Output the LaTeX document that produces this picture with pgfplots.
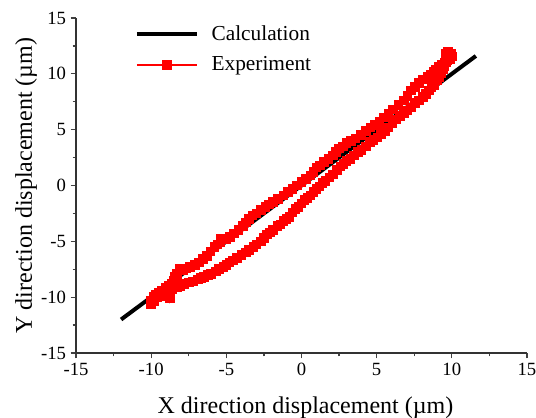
\documentclass[border=0pt]{standalone}
\usepackage{fontspec}
\setmainfont{Liberation Serif}
\usepackage{pgfplots}
\pgfplotsset{compat=1.18}
\begin{document}
\begin{tikzpicture}
\begin{axis}[
  at={(0,0)}, anchor=south west,
  scale only axis, width=338.25pt, height=251.25pt,
  xmin=-15, xmax=15, ymin=-15, ymax=15,
  axis x line*=bottom, axis y line*=left,
  axis line style={draw=none},
  xtick={-15,-10,...,15}, ytick={-15,-10,...,15},
  minor tick num=1,
  tick align=outside,
  major tick length=4pt, minor tick length=2.5pt,
  every tick/.style={black!75, line width=0.9pt},
  ticklabel style={font=\fontsize{14}{14}\selectfont},
  /pgf/number format/assume math mode=true,
  xlabel={X direction displacement (µm)},
  ylabel={Y direction displacement (µm)},
  xlabel style={at={(axis description cs:0.5,0)}, anchor=base, yshift=-45pt, xshift=3pt, font=\fontsize{18}{18}\selectfont},
  ylabel style={at={(axis description cs:0,0.5)}, anchor=base, yshift=33pt, font=\fontsize{18}{18}\selectfont},
  legend style={draw=none, fill=none, at={(rel axis cs:0.13,0.985)}, anchor=north west,
    font=\fontsize{16}{16}\selectfont, row sep=6.5pt, inner sep=0pt,
    nodes={inner xsep=9.5pt}},
  legend cell align=left,
  legend image code/.code={\draw[mark repeat=2,mark phase=2,#1] plot coordinates {(0pt,0pt) (22.5pt,0pt) (45pt,0pt)};},
  clip=false,
]
\addplot[black, line width=3pt, no marks] coordinates {(-12,-12) (11.6,11.6)};
\addlegendentry{Calculation}
\addplot[red, line width=1.2pt, mark=square*, mark size=3pt, mark options={solid, fill=red, draw=red}] coordinates {
(-10.0,-10.3) (-9.8,-10.4) (-9.6,-10.0) (-9.4,-9.9) (-9.2,-9.7) (-9.0,-9.6) (-8.75,-9.35) (-8.75,-10.05) (-8.6,-9.3) (-8.3,-9.1) (-8.1,-9.0) (-7.8,-8.8) (-7.5,-8.7) (-7.2,-8.6) (-6.9,-8.4) (-6.7,-8.3) (-6.5,-8.2) (-6.2,-8.0) (-6.0,-7.9) (-5.7,-7.7) (-5.5,-7.5) (-5.2,-7.3) (-5.0,-7.1) (-4.8,-6.9) (-4.55,-6.7) (-4.3,-6.5) (-4.0,-6.2) (-3.7,-6.0) (-3.5,-5.8) (-3.2,-5.5) (-3.0,-5.3) (-2.7,-5.0) (-2.5,-4.7) (-2.3,-4.4) (-2.1,-4.2) (-1.9,-4.0) (-1.6,-3.6) (-1.4,-3.5) (-1.2,-3.2) (-1.0,-3.0) (-0.8,-2.8) (-0.6,-2.4) (-0.4,-2.1) (-0.2,-1.9) (0.0,-1.6) (0.2,-1.3) (0.4,-1.1) (0.6,-0.9) (0.8,-0.6) (1.0,-0.3) (1.2,-0.1) (1.4,0.2) (1.6,0.4) (1.85,0.7) (2.1,1.0) (2.35,1.4) (2.6,1.7) (2.8,1.9) (3.0,2.2) (3.25,2.4) (3.5,2.7) (3.75,3.0) (4.0,3.2) (4.3,3.5) (4.55,3.9) (4.8,4.1) (5.05,4.3) (5.3,4.6) (5.55,4.9) (5.8,5.2) (6.05,5.6) (6.3,5.9) (6.55,6.2) (6.8,6.5) (7.05,6.7) (7.3,7.0) (7.55,7.4) (7.8,7.6) (8.1,7.9) (8.3,8.2) (8.5,8.5) (8.65,8.8) (8.8,9.0) (9.0,9.4) (9.15,9.7) (9.3,10.1) (9.4,10.4) (9.5,10.7) (9.6,11.0) (9.65,11.3) (9.7,11.5)
(9.6,11.8) (9.75,11.95) (9.95,11.8) (10.0,11.55) (9.9,11.3)
(9.7,11.2) (9.5,11.0) (9.3,10.8) (9.15,10.6) (8.95,10.4) (8.8,10.2) (8.6,9.9) (8.4,9.7) (8.1,9.5) (7.8,9.2) (7.55,8.8) (7.3,8.5) (7.05,8.0) (6.8,7.6) (6.45,7.2) (6.1,6.8) (5.8,6.4) (5.5,6.1) (5.2,5.7) (4.9,5.4) (4.6,5.2) (4.3,4.9) (3.95,4.5) (3.6,4.2) (3.3,4.0) (3.0,3.8) (2.75,3.5) (2.5,3.3) (2.3,3.0) (2.1,2.7) (1.8,2.4) (1.5,2.1) (1.25,1.8) (1.0,1.6) (0.8,1.2) (0.6,0.9) (0.3,0.6) (0.0,0.3) (-0.3,0.0) (-0.6,-0.3) (-0.9,-0.6) (-1.2,-0.9) (-1.55,-1.2) (-1.9,-1.5) (-2.15,-1.7) (-2.4,-1.9) (-2.7,-2.2) (-3.0,-2.5) (-3.25,-2.7) (-3.5,-3.0) (-3.7,-3.3) (-3.9,-3.6) (-4.2,-4.0) (-4.5,-4.3) (-4.75,-4.6) (-5.0,-4.8) (-5.4,-4.8) (-5.4,-5.1) (-5.6,-5.3) (-5.8,-5.5) (-6.05,-5.9) (-6.3,-6.3) (-6.55,-6.6) (-6.8,-6.9) (-7.1,-7.1) (-7.4,-7.3) (-7.65,-7.45) (-7.9,-7.6) (-8.1,-7.5) (-8.3,-7.9) (-8.4,-8.2) (-8.5,-8.5) (-8.65,-8.8) (-8.8,-9.0) (-9.05,-9.2) (-9.3,-9.4) (-9.5,-9.6) (-9.7,-9.8) (-9.8,-10.0) (-9.9,-10.3) (-10.0,-10.6)
};
\addlegendentry{Experiment}
\draw[black!80, line width=1.3pt] (axis cs:-15,15) -- (axis cs:-15,-15) -- (axis cs:15,-15);
\end{axis}
\pgfresetboundingbox
\useasboundingbox (-57pt,-48.75pt) rectangle (345pt,264.75pt);
\end{tikzpicture}
\end{document}
